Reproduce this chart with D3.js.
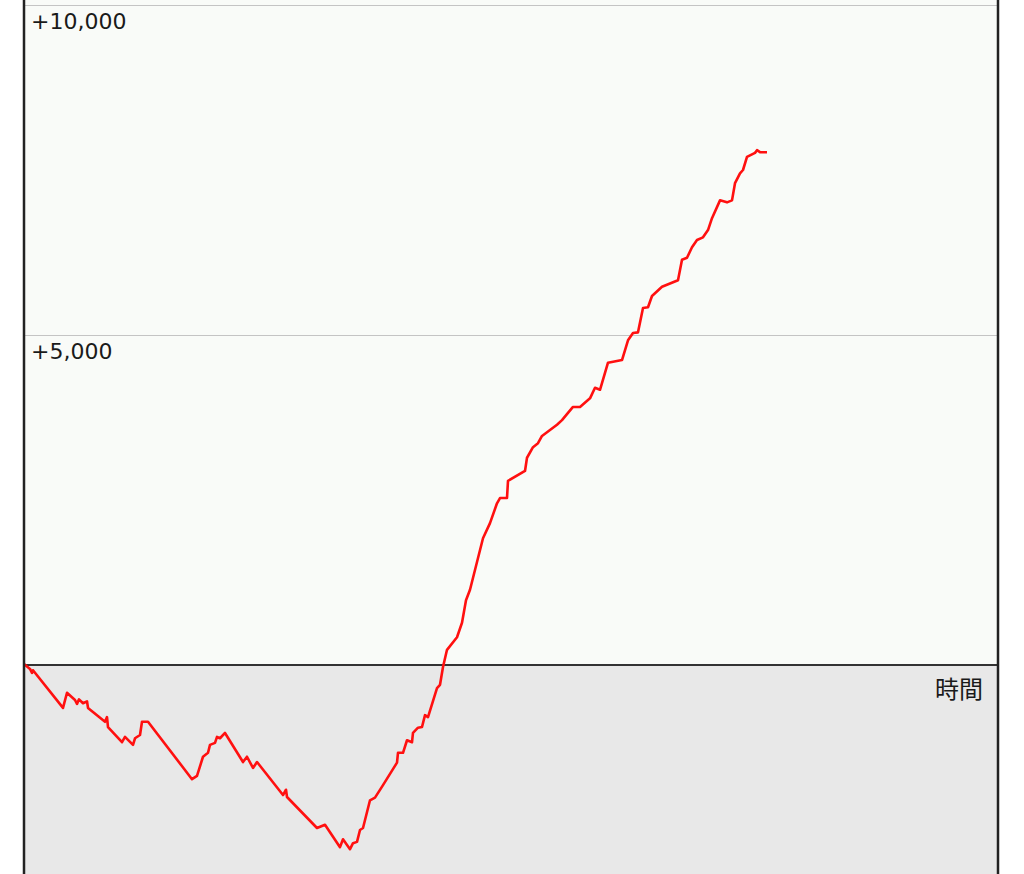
<!DOCTYPE html>
<html>
<head>
<meta charset="utf-8">
<script src="https://cdn.jsdelivr.net/npm/d3@7"></script>
<style>
  body { margin: 0; background: #ffffff; }
  svg { display: block; }
</style>
</head>
<body>
<div id="chart"></div>
<script>
// elapsed time (arbitrary units) and running balance
var times = [0, 6, 8, 9, 39, 43, 51, 53, 55, 59, 63, 64, 81, 83, 84, 98, 101, 109, 111, 116,
  118, 124, 168, 173, 179, 184, 186, 191, 193, 196, 201, 219, 223, 229, 233, 259, 262, 263,
  293, 301, 316, 319, 326, 329, 333, 336, 339, 346, 351, 359, 373, 374, 379, 383, 388, 389,
  394, 398, 401, 404, 413, 416, 419, 423, 433, 438, 442, 446, 459, 466, 473, 476, 483, 484,
  501, 503, 509, 514, 518, 526, 533, 538, 544, 549, 556, 566, 571, 576, 584, 598, 604, 609,
  614, 619, 624, 628, 638, 654, 658, 663, 668, 673, 679, 684, 688, 696, 703, 708, 711, 716,
  719, 723, 731, 733, 736, 743];
var values = [15, -60, -120, -80, -650, -420, -530, -590, -520, -580, -550, -650, -860, -790,
  -940, -1170, -1090, -1210, -1110, -1060, -860, -860, -1730, -1680, -1390, -1330, -1210,
  -1180, -1090, -1110, -1030, -1470, -1390, -1560, -1470, -1970, -1890, -2000, -2470, -2420,
  -2760, -2640, -2790, -2700, -2680, -2500, -2470, -2050, -2010, -1820, -1480, -1330, -1330,
  -1140, -1170, -1030, -950, -940, -760, -790, -350, -300, -30, 230, 420, 640, 980, 1140,
  1920, 2150, 2450, 2530, 2530, 2790, 2940, 3140, 3300, 3360, 3470, 3560, 3640, 3710, 3820,
  3910, 3910, 4040, 4200, 4170, 4580, 4620, 4920, 5030, 5040, 5410, 5420, 5590, 5730, 5830,
  6140, 6170, 6330, 6440, 6480, 6590, 6770, 7040, 7010, 7040, 7300, 7450, 7500, 7700, 7760,
  7800, 7770, 7770];
var gridValues = [5000, 10000];
var gridLabels = ["+5,000", "+10,000"];
var xLabel = "時間";

var width = 1024;
var height = 874;
var left = 24, right = 998;

var x = d3.scaleLinear().domain([0, 974]).range([left, right]);
var y = d3.scaleLinear().domain([0, 10000]).range([665, 5]);

var svg = d3.select('#chart')
  .append('svg')
  .attr('width', width)
  .attr('height', height);

// plot background, positive and negative halves
svg.append('rect')
  .attr('x', left).attr('y', 0)
  .attr('width', right - left).attr('height', y(0))
  .attr('fill', '#f9fbf8');
svg.append('rect')
  .attr('x', left).attr('y', y(0))
  .attr('width', right - left).attr('height', height - y(0))
  .attr('fill', '#e8e8e8');

// gridlines
svg.selectAll('line.grid')
  .data(gridValues)
  .enter()
  .append('line')
  .attr('class', 'grid')
  .attr('x1', left).attr('x2', right)
  .attr('y1', function(d) { return y(d) + 0.5; })
  .attr('y2', function(d) { return y(d) + 0.5; })
  .attr('stroke', '#c4c4c4')
  .attr('stroke-width', 1.2);

svg.selectAll('text.tick')
  .data(gridValues)
  .enter()
  .append('text')
  .attr('class', 'tick')
  .attr('x', 31)
  .attr('y', function(d) { return y(d) + 24; })
  .attr('style', 'font-family: "DejaVu Sans", sans-serif; font-size: 22px; fill: #1a1a1a')
  .text(function(d, i) { return gridLabels[i]; });

// zero line
svg.append('line')
  .attr('x1', left).attr('x2', right)
  .attr('y1', y(0)).attr('y2', y(0))
  .attr('stroke', '#333')
  .attr('stroke-width', 2);

svg.append('text')
  .attr('x', 983)
  .attr('y', y(0) + 33)
  .attr('text-anchor', 'end')
  .attr('style', 'font-family: "Noto Sans CJK JP", sans-serif; font-size: 24px; fill: #1a1a1a')
  .text(xLabel);

// balance line
var line = d3.line()
  .x(function(d, i) { return x(times[i]); })
  .y(function(d) { return y(d); });

svg.append('path')
  .datum(values)
  .attr('d', line)
  .attr('fill', 'none')
  .attr('stroke', '#ff1010')
  .attr('stroke-width', 2.6)
  .attr('stroke-linejoin', 'round');

// frame sides
svg.append('line')
  .attr('x1', left).attr('x2', left).attr('y1', 0).attr('y2', height)
  .attr('stroke', '#222').attr('stroke-width', 2.5);
svg.append('line')
  .attr('x1', right).attr('x2', right).attr('y1', 0).attr('y2', height)
  .attr('stroke', '#222').attr('stroke-width', 2.5);
</script>
</body>
</html>
